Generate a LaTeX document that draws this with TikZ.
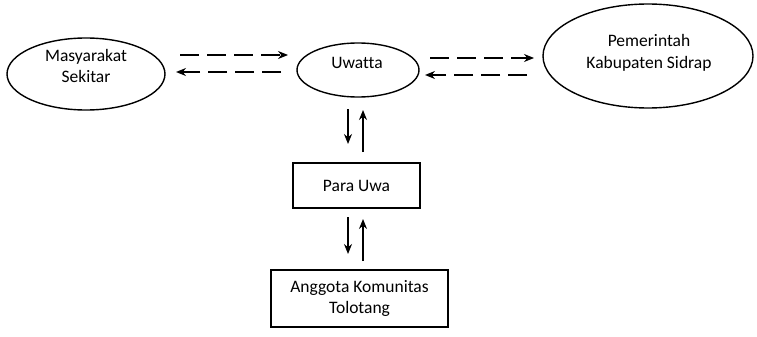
\documentclass[tikz,border=0pt]{standalone}
\usepackage{fontspec}
\setmainfont[Ligatures=NoCommon]{Carlito}
\usetikzlibrary{shapes.geometric,arrows.meta,calc}
\begin{document}
\begin{tikzpicture}[x=1pt,y=-1pt,
  oval/.style={draw,ellipse,line width=1.4pt,inner sep=0pt},
  boxnode/.style={draw,rectangle,line width=1.2pt,inner sep=0pt},
  lbl/.style={font=\fontsize{17.5}{21.5}\selectfont,align=center,inner sep=0pt},
  dashedarrow/.style={line width=1.3pt,dash pattern=on 19pt off 8pt,-{Stealth[length=10pt,width=8pt]}},
  solidarrow/.style={line width=1.3pt,-{Stealth[length=10pt,width=8pt]}}]
\useasboundingbox (0,0) rectangle (757,337);
% nodes
\node[oval,minimum width=158pt,minimum height=72pt] (mas) at (86,74) {};
\node[lbl] (mastext) at (86,66) {Masyarakat\\Sekitar};
\node[oval,minimum width=122pt,minimum height=54pt] (uwa) at (358,70) {};
\node[lbl] (uwatext) at (357,63) {Uwatta};
\node[oval,minimum width=210pt,minimum height=104pt] (pem) at (648,56) {};
\node[lbl] (pemtext) at (649,53) {Pemerintah\\Kabupaten Sidrap};
\node[boxnode,minimum width=127pt,minimum height=45pt] (para) at (356.5,185.5) {};
\node[lbl] (paratext) at (356.5,185.5) {Para Uwa};
\node[boxnode,minimum width=177pt,minimum height=57pt] (ang) at (359.5,298.5) {};
\node[lbl] (angtext) at (359.5,298.5) {Anggota Komunitas\\Tolotang};
% arrow end points
\coordinate (a1s) at (180,55); \coordinate (a1e) at (288,55);
\coordinate (a2s) at (281,72); \coordinate (a2e) at (176,72);
\coordinate (b1s) at (430,58); \coordinate (b1e) at (534,58);
\coordinate (b2s) at (527,75); \coordinate (b2e) at (425,75);
\coordinate (v1s) at (348,109); \coordinate (v1e) at (348,144);
\coordinate (v2s) at (363,152); \coordinate (v2e) at (363,110);
\coordinate (w1s) at (348,217); \coordinate (w1e) at (348,254);
\coordinate (w2s) at (363,261); \coordinate (w2e) at (363,219);
% connectors
\draw[dashedarrow] (a1s) -- (a1e);
\draw[dashedarrow] (a2s) -- (a2e);
\draw[dashedarrow] (b1s) -- (b1e);
\draw[dashedarrow] (b2s) -- (b2e);
\draw[solidarrow] (v1s) -- (v1e);
\draw[solidarrow] (v2s) -- (v2e);
\draw[solidarrow] (w1s) -- (w1e);
\draw[solidarrow] (w2s) -- (w2e);
\end{tikzpicture}
\end{document}
